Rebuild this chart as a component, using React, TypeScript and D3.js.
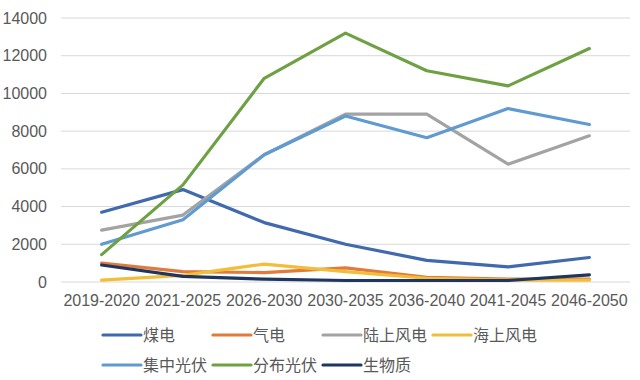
import React from "react";
import * as d3 from "d3";

const categories = ["2019-2020", "2021-2025", "2026-2030", "2030-2035", "2036-2040", "2041-2045", "2046-2050"];
const seriesNames = ["煤电", "气电", "陆上风电", "海上风电", "集中光伏", "分布光伏", "生物质"];
const seriesColors = ["#4169AE", "#E07B3C", "#A3A3A3", "#F2BE3A", "#5F9BD0", "#6FA144", "#1F3660"];
const coal = [3700, 4900, 3150, 2000, 1150, 800, 1300];
const gas = [1000, 550, 500, 750, 250, 150, 150];
const onshoreWind = [2750, 3550, 6750, 8900, 8900, 6250, 7750];
const offshoreWind = [100, 350, 950, 550, 200, 100, 100];
const centralPV = [2000, 3300, 6750, 8800, 7650, 9200, 8350];
const distributedPV = [1450, 5150, 10800, 13200, 11200, 10400, 12380];
const biomass = [900, 300, 150, 80, 80, 80, 380];
const yTicks = [0, 2000, 4000, 6000, 8000, 10000, 12000, 14000];

const allSeries = [coal, gas, onshoreWind, offshoreWind, centralPV, distributedPV, biomass];

export default function App() {
  const W = 640, H = 380;
  const left = 61, right = 630, top = 18, bottom = 282;
  const x = d3.scaleBand().domain(categories).range([left, right]);
  const y = d3.scaleLinear().domain([0, 14000]).range([bottom, top]);
  const line = d3.line<number>()
    .x((_, i) => (x(categories[i]) as number) + x.bandwidth() / 2)
    .y((d) => y(d));
  const font = "'Liberation Sans', Arial, 'Noto Sans CJK SC', sans-serif";
  const legendPos = [
    [103, 335], [213, 335], [323, 335], [433, 335],
    [103, 365], [213, 365], [323, 365],
  ];
  return (
    <svg width={W} height={H} style={{ position: "absolute", left: 0, top: 0, background: "#fff" }} fontFamily={font}>
      {yTicks.map((t) => (
        <g key={t}>
          <line x1={left} x2={right} y1={y(t)} y2={y(t)} stroke="#D9D9D9" strokeWidth={1} />
          <text x={47} y={y(t)} dy="0.35em" textAnchor="end" fontSize={16} fill="#595959">{t}</text>
        </g>
      ))}
      {categories.map((c) => (
        <text key={c} x={(x(c) as number) + x.bandwidth() / 2} y={300} dy="0.35em" textAnchor="middle" fontSize={16} fill="#595959">{c}</text>
      ))}
      {allSeries.map((s, i) => (
        <path key={i} d={line(s) || ""} fill="none" stroke={seriesColors[i]} strokeWidth={3.2} strokeLinejoin="round" strokeLinecap="round" />
      ))}
      {seriesNames.map((n, i) => (
        <g key={n}>
          <line x1={legendPos[i][0]} x2={legendPos[i][0] + 38} y1={legendPos[i][1]} y2={legendPos[i][1]} stroke={seriesColors[i]} strokeWidth={3.2} strokeLinecap="round" />
          <text x={legendPos[i][0] + 40} y={legendPos[i][1]} dy="0.35em" fontSize={16} fill="#595959">{n}</text>
        </g>
      ))}
    </svg>
  );
}
